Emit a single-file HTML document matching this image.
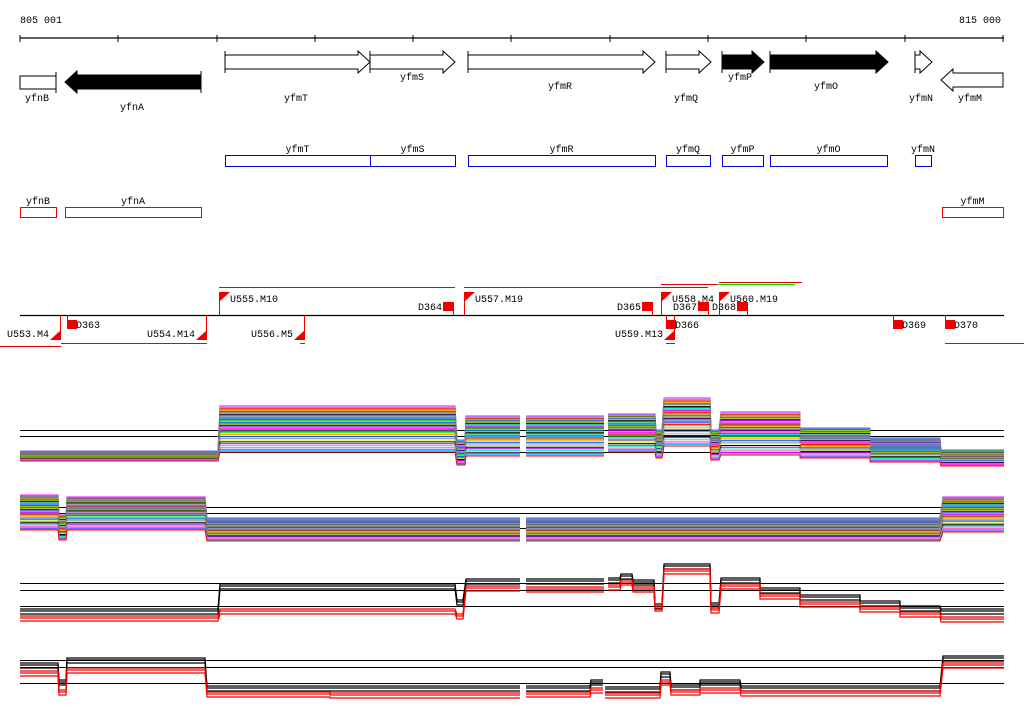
<!DOCTYPE html>
<html><head><meta charset="utf-8"><style>
html,body{margin:0;padding:0;background:#fff;}
svg{display:block;}
text{font-family:"Liberation Mono","DejaVu Sans Mono",monospace;font-size:10px;fill:#000;}
</style></head><body>
<svg id="chart" width="1024" height="714" viewBox="0 0 1024 714" xmlns="http://www.w3.org/2000/svg">
<g id="ruler">
<text x="20" y="23">805 001</text>
<text x="1001" y="23" text-anchor="end">815 000</text>
<line x1="20" y1="38" x2="1004" y2="38" stroke="#000" stroke-width="1.3"/>
</g>
<g id="genes"></g>
<g id="boxes"></g>
<g id="annot"></g>
<g id="expr"></g>
</svg>
<script>
const NS="http://www.w3.org/2000/svg";
function mk(tag,attrs,parent){const e=document.createElementNS(NS,tag);for(const k in attrs)e.setAttribute(k,attrs[k]);parent.appendChild(e);return e;}
function txt(s,x,y,parent,anchor){const t=mk('text',{x:x,y:y,'text-anchor':anchor||'middle'},parent);t.textContent=s;return t;}

// ruler ticks
const tickX=[20,118,217,315,413,511,610,708,806,905,1003];
const ruler=document.getElementById('ruler');
tickX.forEach(x=>{const l=mk('line',{x1:x,y1:35,x2:x,y2:42,stroke:'#000'},ruler);

});

// gene arrows: name, start, end, strand(+1/-1), filled, labelX, labelY
const geneNames=['yfnB','yfnA','yfmT','yfmS','yfmR','yfmQ','yfmP','yfmO','yfmN','yfmM'];
const geneStart=[20,65,225,370,468,666,722,770,915,941];
const geneEnd=[56,201,370,455,655,711,764,888,932,1003];
const geneStrand=[-1,-1,1,1,1,1,1,1,1,-1];
const geneFilled=[0,1,0,0,0,0,1,1,0,0];
const geneLabelX=[37,132,296,412,560,686,740,826,921,970];
const geneLabelY=[101,110,101,80,89,101,80,89,101,101];
const gG=document.getElementById('genes');
geneNames.forEach((n,i)=>{
  const s=geneStart[i],e=geneEnd[i],st=geneStrand[i],f=geneFilled[i];
  const fill=f?'#000':'#fff';
  const g=mk('g',{},gG);
  
  
  let yc=(st>0)?62:82; let h=7, hh=11, hl=12;
  if(n==='yfnB'){mk('rect',{x:s,y:76,width:e-s,height:13,fill:'#fff',stroke:'#000'},g);mk('line',{x1:e,y1:72,x2:e,y2:93,stroke:'#000'},g);}
  else if(st>0){
    const hx=Math.max(s,e-hl);
    mk('polygon',{points:`${s},${yc-h} ${hx},${yc-h} ${hx},${yc-hh} ${e},${yc} ${hx},${yc+hh} ${hx},${yc+h} ${s},${yc+h}`,fill:fill,stroke:'#000'},g);
    mk('line',{x1:s,y1:yc-hh,x2:s,y2:yc+hh,stroke:'#000'},g);
  } else {
    const hx=Math.min(e,s+hl);
    const yy=(n==='yfmM')?80:82;
    mk('polygon',{points:`${e},${yy-h} ${hx},${yy-h} ${hx},${yy-hh} ${s},${yy} ${hx},${yy+hh} ${hx},${yy+h} ${e},${yy+h}`,fill:fill,stroke:'#000'},g);
    if(n==='yfnA')mk('line',{x1:e,y1:yy-hh,x2:e,y2:yy+hh,stroke:'#000'},g);
  }
  const t=txt(n,geneLabelX[i],geneLabelY[i],g);
  
  
});

// boxes
const blueNames=['yfmT','yfmS','yfmR','yfmQ','yfmP','yfmO','yfmN'];
const blueStart=[225,370,468,666,722,770,915];
const blueEnd=[370,455,655,710,763,887,931];
const redNames=['yfnB','yfnA','yfmM'];
const redStart=[20,65,942];
const redEnd=[56,201,1003];
const gB=document.getElementById('boxes');
blueNames.forEach((n,i)=>{
  const r=mk('rect',{x:blueStart[i]+0.5,y:155.5,width:blueEnd[i]-blueStart[i],height:11,fill:'none',stroke:'#0000ee'},gB);
  
  
  const t=txt(n,(blueStart[i]+blueEnd[i])/2,152,gB);
  
  
});
redNames.forEach((n,i)=>{
  const r=mk('rect',{x:redStart[i]+0.5,y:207.5,width:redEnd[i]-redStart[i],height:10,fill:'none',stroke:'#ee0000'},gB);
  
  
  const t=txt(n,(redStart[i]+redEnd[i])/2,204,gB);
  
  
});

// annotation track
const gA=document.getElementById('annot');
mk('line',{x1:20,y1:315.5,x2:1004,y2:315.5,stroke:'#000','stroke-width':1.2},gA);
const R='#ee0000';
// red/green span lines: x1,x2,y,color
const spanX1=[219,464,661,717,719,0,61,300,666,945];
const spanX2=[455,708,717,795,802,61,207,305,675,1024];
const spanY=[287,287,284,284,282,346,343,343,343,343];
const spanC=[R,R,R,'#00dd00',R,R,R,R,R,R];
spanX1.forEach((x,i)=>{const l=mk('line',{x1:x,y1:spanY[i]+0.5,x2:spanX2[i],y2:spanY[i]+0.5,stroke:spanC[i]},gA);

});
// upper U flags: label, x
const upNames=['U555.M10','U557.M19','U558.M4','U560.M19'];
const upX=[219,464,661,719];
upNames.forEach((n,i)=>{
  const x=upX[i];const g=mk('g',{},gA);
  
  
  mk('line',{x1:x+0.5,y1:292,x2:x+0.5,y2:315,stroke:R},g);
  mk('polygon',{points:`${x},${292} ${x+11},292 ${x},${302}`,fill:R},g);
  txt(n,x+11,302,g,'start');
});
// lower U flags
const loNames=['U553.M4','U554.M14','U556.M5','U559.M13'];
const loX=[61,207,305,675];
loNames.forEach((n,i)=>{
  const x=loX[i];const g=mk('g',{},gA);
  
  
  mk('line',{x1:x-0.5,y1:316,x2:x-0.5,y2:340,stroke:R},g);
  mk('polygon',{points:`${x},${330} ${x},340 ${x-11},340`,fill:R},g);
  txt(n,x-12,337,g,'end');
});
// D terminator squares: name, x, up(1)/down(0)
const dNames=['D364','D365','D367','D368','D363','D366','D369','D370'];
const dX=[443,642,698,737,67,666,893,945];
const dUp=[1,1,1,1,0,0,0,0];
dNames.forEach((n,i)=>{
  const x=dX[i];const g=mk('g',{},gA);
  
  
  if(dUp[i]){mk('rect',{x:x,y:302,width:10,height:9,fill:R},g);
    mk('line',{x1:x+10.5,y1:302,x2:x+10.5,y2:315,stroke:R},g);
    txt(n,x-1,310,g,'end');}
  else{mk('rect',{x:x,y:320,width:10,height:9,fill:R},g);
    mk('line',{x1:x+0.5,y1:315,x2:x+0.5,y2:320,stroke:R},g);
    txt(n,x+9,328,g,'start');}
});

// expression tracks
const gE=document.getElementById('expr');
const refLines1=[430,436,452], refLines2=[507,513,528], refLines3=[583,590,606], refLines4=[660,667,683];
[refLines1,refLines2,refLines3,refLines4].forEach(arr=>arr.forEach(y=>{
  const l=mk('line',{x1:20,y1:y+0.5,x2:1004,y2:y+0.5,stroke:'#000'},gE);
  
  }));

// Track 1 segments: x0,x1,top,bottom,breakAfter
const t1x0=[20,220,457,466,526,608,656,664,711,721,800,870,941];
const t1x1=[218,455,465,520,604,655,662,710,719,800,870,940,1004];
const t1top=[451,406,440,416,416,414,430,398,430,412,428,438,450];
const t1bot=[461,452,465,456,456,452,458,446,460,455,458,462,466];
const t1brk=[0,0,0,1,1,0,0,0,0,0,0,0,0];
// Track 2 segments
const t2x0=[20,59,67,207,526,943];
const t2x1=[58,66,205,520,940,1004];
const t2top=[495,515,497,518,518,497];
const t2bot=[530,540,530,541,541,532];
const t2brk=[0,0,0,1,0,0];
const lineColors=['#ff00ff','#00ccff','#ff0000','#00ee00','#ffa500','#0066ff','#888888','#ccee00','#000000','#aa00ff','#00ffaa','#ff66cc'];
const lineFrac=[0,0.03,0.06,0.08,0.1,0.12,0.14,0.16,0.18,0.2,0.22,0.24,0.26,0.28,0.3,0.32,0.34,0.36,0.38,0.4,0.42,0.44,0.46,0.48,0.5,0.52,0.55,0.58,0.62,0.66,0.7,0.74,0.78,0.82,0.86,0.9,0.94,0.97,1];

function drawMulti(x0,x1,top,bot,brk,name){
  lineFrac.forEach((f,j)=>{
    let d='';let start=true;
    for(let i=0;i<x0.length;i++){
      const y=(top[i]+f*(bot[i]-top[i])).toFixed(1);
      d+=(start?'M':'L')+x0[i]+','+y+'L'+x1[i]+','+y;
      start=!!brk[i];
    }
    const p=mk('path',{d:d,fill:'none',stroke:lineColors[j%lineColors.length],'stroke-width':1},gE);
    
    
  });
}
drawMulti(t1x0,t1x1,t1top,t1bot,t1brk,'track1');
drawMulti(t2x0,t2x1,t2top,t2bot,t2brk,'track2');

// Track 3: x0,x1,black,red
const t3x0=[20,220,457,466,526,608,621,633,655,664,711,721,760,800,860,900,941];
const t3x1=[218,455,463,520,604,620,632,654,662,710,719,760,800,860,900,940,1004];
const t3black=[609,584,600,579,579,578,574,580,604,564,603,578,588,595,601,606,609];
const t3red=[616,609,614,586,587,585,580,587,606,569,608,584,594,602,607,612,617];
const t3brk=[0,0,0,1,1,0,0,0,0,0,0,0,0,0,0,0,0];
// Track 4
const t4x0=[20,59,67,207,330,526,591,605,661,671,700,741,943];
const t4x1=[58,66,205,330,520,590,603,660,670,700,740,940,1004];
const t4black=[663,680,658,686,686,686,680,687,672,685,680,686,656];
const t4red=[671,690,668,692,693,692,688,693,680,690,688,691,663];
const t4brk=[0,0,0,0,1,0,1,0,0,0,0,0,0];
const pairOffsets=[0,2,5];

function drawPair(x0,x1,vals,brk,color,name){
  pairOffsets.forEach(o=>{
    let d='';let start=true;
    for(let i=0;i<x0.length;i++){
      const y=vals[i]+o;
      d+=(start?'M':'L')+x0[i]+','+y+'L'+x1[i]+','+y;
      start=!!brk[i];
    }
    const p=mk('path',{d:d,fill:'none',stroke:color,'stroke-width':1.2},gE);
    
    
  });
}
drawPair(t3x0,t3x1,t3black,t3brk,'#000','track3-black-profile');
drawPair(t3x0,t3x1,t3red,t3brk,'#ee0000','track3-red-profile');
drawPair(t4x0,t4x1,t4black,t4brk,'#000','track4-black-profile');
drawPair(t4x0,t4x1,t4red,t4brk,'#ee0000','track4-red-profile');
</script>
</body></html>
